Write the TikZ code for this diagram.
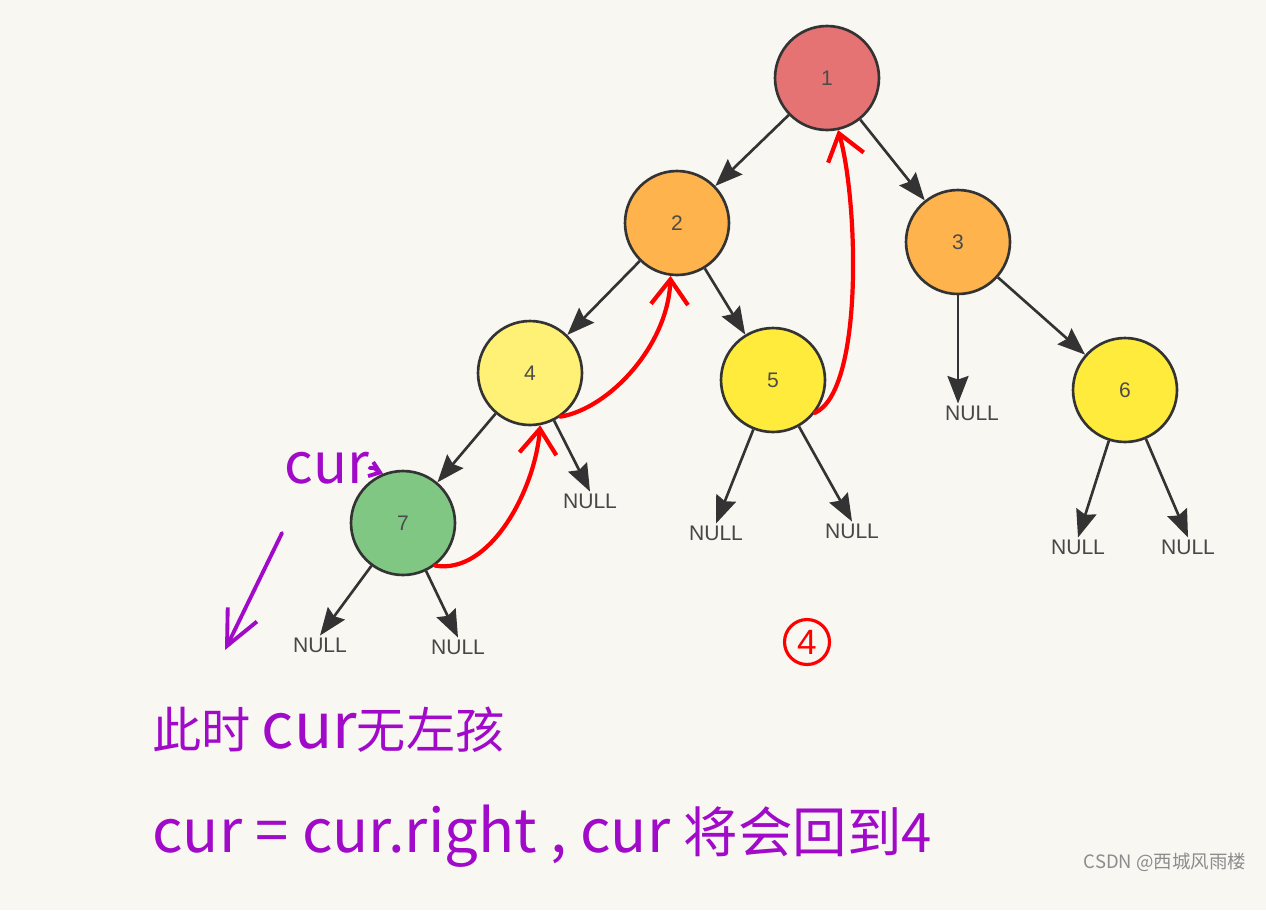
\documentclass[tikz,border=0pt]{standalone}
\usepackage{fontspec}
\setmainfont{Liberation Sans}
\newfontfamily\cjk{Noto Sans CJK SC}
\usetikzlibrary{arrows.meta}
\definecolor{paper}{RGB}{249,247,242}
\definecolor{rim}{RGB}{51,51,51}
\definecolor{rose}{RGB}{229,115,115}
\definecolor{amber}{RGB}{255,179,77}
\definecolor{lemon}{RGB}{255,241,118}
\definecolor{sun}{RGB}{255,235,59}
\definecolor{leaf}{RGB}{129,199,132}
\definecolor{inkred}{RGB}{255,0,0}
\definecolor{inkviolet}{RGB}{160,10,200}
\newcommand\handcn[1]{\fontsize{#1}{#1}\selectfont}
\tikzset{
  tree/.style={circle, draw=rim, line width=1.5pt, minimum size=2.08cm, inner sep=0pt,
    text=black!70, font=\fontsize{12}{14}\selectfont},
  null/.style={inner sep=1pt, text=black!72, font=\fontsize{12}{14}\selectfont},
  edge/.style={draw=rim, line width=1.5pt, -{Stealth[length=0.55cm, width=0.42cm, inset=0.07cm]}},
  trace/.style={draw=inkred, line width=2.4pt, line cap=round, line join=round,
    -{Straight Barb[length=0.5cm, width=0.74cm]}},
  hand/.style={text=inkviolet, inner sep=0pt, font=\cjk},
  handline/.style={draw=inkviolet, line width=2.2pt, line cap=round, line join=round}
}
\begin{document}
\begin{tikzpicture}[x=0.02cm, y=-0.02cm]
		\useasboundingbox[fill=paper] (0,0) rectangle (1266,910);
		
		\node[tree, fill=rose] (n1) at (827,78) {1};
		\node[tree, fill=amber] (n2) at (677,223) {2};
		\node[tree, fill=amber] (n3) at (958,242) {3};
		\node[tree, fill=lemon] (n4) at (530,373) {4};
		\node[tree, fill=sun] (n5) at (773,380) {5};
		\node[tree, fill=sun] (n6) at (1125,390) {6};
		\node[tree, fill=leaf] (n7) at (403,523) {7};
		
		\node[null] (null-3) at (972,413) {NULL};
		\node[null] (null-4) at (590,501) {NULL};
		\node[null] (null-5l) at (716,533) {NULL};
		\node[null] (null-5r) at (852,531) {NULL};
		\node[null] (null-6l) at (1078,547) {NULL};
		\node[null] (null-6r) at (1188,547) {NULL};
		\node[null] (null-7l) at (320,645) {NULL};
		\node[null] (null-7r) at (458,647) {NULL};
		
		\draw[edge] (n1) -- (n2);
		\draw[edge] (n1) -- (n3);
		\draw[edge] (n2) -- (n4);
		\draw[edge] (n2) -- (n5);
		\draw[edge] (n3) -- (n3 |- null-3.north);
		\draw[edge] (n3) -- (n6);
		\draw[edge] (n4) -- (n7);
		\draw[edge] (n4) -- (null-4.north);
		\draw[edge] (n5) -- (null-5l.north);
		\draw[edge] (n5) -- (null-5r.north);
		\draw[edge] (n6) -- (null-6l.north);
		\draw[edge] (n6) -- (null-6r.north);
		\draw[edge] (n7) -- (null-7l.north);
		\draw[edge] (n7) -- (null-7r.north);
		
		% way back up the threads
		\draw[trace] (n7.-53) .. controls (490,575) and (535,490) .. (n4.-79);
		\draw[trace] (n4.-55) .. controls (610,408) and (668,345) .. (n2.-97);
		\draw[trace] (n5.-38) .. controls (864,390) and (858,200) .. (n1.-78);
		\node[circle, draw=inkred, line width=1.8pt, text=inkred, inner sep=0pt, minimum size=0.9cm,
			font=\fontsize{20}{22}\selectfont] (step-four) at (807,642) {4};
		
		\node[hand, font=\cjk\handcn{32}] (cur-label) at (327,468) {cur};
		\draw[handline, -{Straight Barb[length=0.2cm, width=0.3cm]}] (cur-label.east) to[out=20, in=160] (n7.112);
		\coordinate (down-from) at (282,533);
		\coordinate (down-to) at (225,650);
		\draw[handline, -{Straight Barb[length=0.7cm, width=0.65cm]}] (down-from) -- (down-to);
		
		\node[hand, anchor=base west] (line-one) at (152,748)
			{\handcn{28}此时 \handcn{36}cur\handcn{28}无左孩};
		\node[hand, anchor=base west] (line-two) at (152,852)
			{\handcn{34}cur = cur.right , cur \handcn{31}将会回到4};
		
		\node[text=black!45, font=\cjk\fontsize{10.5}{12}\selectfont] (watermark) at (1165,862) {CSDN @西城风雨楼};
	\end{tikzpicture}
\end{document}
